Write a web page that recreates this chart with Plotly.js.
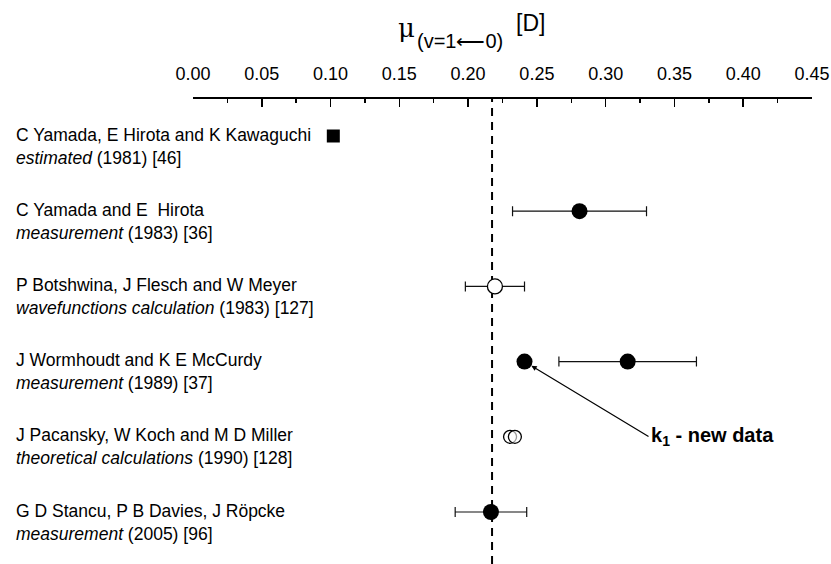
<!DOCTYPE html>
<html>
<head>
<meta charset="utf-8">
<script src="https://cdn.plot.ly/plotly-3.0.1.min.js"></script>
<style>html,body{margin:0;padding:0;background:#fff;}#chart{width:831px;height:564px;}</style>
</head>
<body>
<div id="chart"></div>
<script>
// ---- data ----
const rowAuthors = [
  "C Yamada, E Hirota and K Kawaguchi",
  "C Yamada and E  Hirota",
  "P Botshwina, J Flesch and W Meyer",
  "J Wormhoudt and K E McCurdy",
  "J Pacansky, W Koch and M D Miller",
  "G D Stancu, P B Davies, J Röpcke"
];
const rowNotes = [
  "<i>estimated</i> (1981) [46]",
  "<i>measurement</i> (1983) [36]",
  "<i>wavefunctions calculation</i> (1983) [127]",
  "<i>measurement</i> (1989) [37]",
  "<i>theoretical calculations</i> (1990) [128]",
  "<i>measurement</i> (2005) [96]"
];
const rowIndex = [1, 2, 3, 4, 5, 6];

const pointRow   = [1, 2, 3, 4, 4, 5, 5, 6];
const pointValue = [0.102, 0.281, 0.2195, 0.241, 0.316, 0.2305, 0.234, 0.2166];
const pointError = [0, 0.0487, 0.0215, 0, 0.050, 0, 0, 0.026];
const pointKind  = ["square", "filled", "open", "filled", "filled", "openSmall", "openSmall", "filled"];

const referenceValue = 0.2174;
const newDataRow = 4;
const newDataValue = 0.241;
const newDataLabel = "<b>k<sub>1</sub> - new data</b>";
const axisTitleMu = "μ";
const axisTitleSub = "(v=1⟵0)";
const axisTitleUnit = "[D]";

// ---- layout constants ----
const W = 831, H = 564, ML = 193, MR = 19, MT = 99, MB = 0;
const PW = W - ML - MR, PH = H - MT - MB;
const px2paperX = p => (p - ML) / PW;
const px2paperY = p => 1 + (MT - p) / PH;

function pick(kind) {
  const idx = pointKind.map((k, i) => k === kind ? i : -1).filter(i => i >= 0);
  return {
    x: idx.map(i => pointValue[i]),
    y: idx.map(i => pointRow[i]),
    e: idx.map(i => pointError[i])
  };
}

const errStyle = {type: 'data', visible: true, color: '#111', thickness: 1.2, width: 5};

const sq = pick("square"), fi = pick("filled"), op = pick("open"), os = pick("openSmall");
const traces = [
  {x: sq.x, y: sq.y, type: 'scatter', mode: 'markers', cliponaxis: false,
   marker: {symbol: 'square', size: 13, color: '#000'}},
  {x: fi.x, y: fi.y, type: 'scatter', mode: 'markers', cliponaxis: false,
   error_x: Object.assign({array: fi.e}, errStyle),
   marker: {symbol: 'circle', size: 16, color: '#000'}},
  {x: op.x, y: op.y, type: 'scatter', mode: 'markers', cliponaxis: false,
   error_x: Object.assign({array: op.e}, errStyle),
   marker: {symbol: 'circle', size: 15, color: '#fff', line: {color: '#000', width: 1.3}}},
  {x: os.x, y: os.y, type: 'scatter', mode: 'markers', cliponaxis: false,
   marker: {symbol: 'circle', size: 13, color: 'rgba(255,255,255,0.6)', line: {color: '#000', width: 1.3}}}
];

const annotations = [];
rowIndex.forEach((r, i) => {
  annotations.push({
    xref: 'paper', yref: 'y', x: px2paperX(14), y: r, xanchor: 'left', yanchor: 'middle',
    yshift: -10, align: 'left', showarrow: false,
    text: rowAuthors[i] + "<br>" + rowNotes[i],
    font: {family: 'Liberation Sans, Arial, sans-serif', size: 17.5, color: '#000'}
  });
});
annotations.push({
  xref: 'x', yref: 'y', x: newDataValue, y: newDataRow, text: newDataLabel,
  xanchor: 'left', yanchor: 'middle',
  showarrow: true, ax: 124, ay: 75, arrowhead: 2, arrowsize: 0.9, arrowwidth: 1.2,
  arrowcolor: '#000', standoff: 8,
  font: {family: 'Liberation Sans, Arial, sans-serif', size: 20, color: '#000'}
});
annotations.push({
  xref: 'paper', yref: 'paper', x: px2paperX(406), y: px2paperY(28), xanchor: 'center', yanchor: 'middle',
  showarrow: false, text: axisTitleMu,
  font: {family: 'DejaVu Serif, serif', size: 26, color: '#000'}
});
annotations.push({
  xref: 'paper', yref: 'paper', x: px2paperX(415), y: px2paperY(41), xanchor: 'left', yanchor: 'middle',
  showarrow: false, text: axisTitleSub,
  font: {family: 'Liberation Sans, Arial, sans-serif', size: 20, color: '#000'}
});
annotations.push({
  xref: 'paper', yref: 'paper', x: px2paperX(514), y: px2paperY(23), xanchor: 'left', yanchor: 'middle',
  showarrow: false, text: axisTitleUnit,
  font: {family: 'Liberation Sans, Arial, sans-serif', size: 23, color: '#000'}
});

const rowPx0 = 136, rowStep = 75.2;
const yTop = 1 - (rowPx0 - MT) / rowStep;
const yBottom = 1 + (H - MB - rowPx0) / rowStep;

const layout = {
  width: W, height: H,
  margin: {l: ML, r: MR, t: MT, b: MB, pad: 0},
  paper_bgcolor: '#fff', plot_bgcolor: '#fff',
  showlegend: false,
  font: {family: 'Liberation Sans, Arial, sans-serif', color: '#000'},
  xaxis: {
    side: 'top', range: [0, 0.45], dtick: 0.05, tick0: 0, tickformat: '.2f',
    showline: true, linecolor: '#000', linewidth: 1.6,
    ticks: 'inside', ticklen: 8, tickwidth: 1.5, tickcolor: '#000',
    minor: {ticks: 'inside', dtick: 0.025, ticklen: 4, tickwidth: 1.5, tickcolor: '#000', showgrid: false},
    showgrid: false, zeroline: false, mirror: false,
    ticklabelstandoff: 10,
    tickfont: {size: 18, color: '#000', family: 'Liberation Sans, Arial, sans-serif'}
  },
  yaxis: {
    range: [yBottom, yTop], visible: false, showgrid: false, zeroline: false
  },
  shapes: [{
    type: 'line', xref: 'x', yref: 'paper', x0: referenceValue, x1: referenceValue, y0: 0, y1: 1,
    line: {color: '#000', width: 2, dash: '8px,6px'}, layer: 'below'
  }],
  annotations: annotations
};

Plotly.newPlot('chart', traces, layout, {staticPlot: true, displayModeBar: false});
</script>
</body>
</html>
